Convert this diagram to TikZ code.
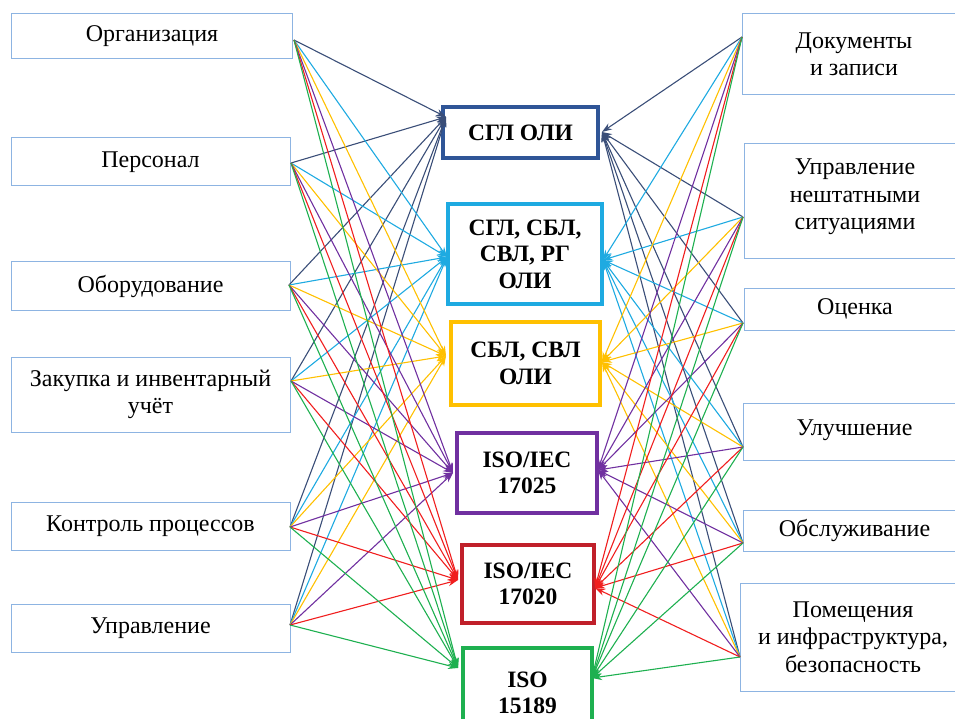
\documentclass[tikz,border=0pt]{standalone}
\usepackage{fontspec}
\setmainfont{Liberation Serif}
\usetikzlibrary{arrows.meta}
\definecolor{frame}{RGB}{141,180,226}
\definecolor{sgl}{RGB}{47,85,151}
\definecolor{sglline}{RGB}{58,78,120}
\definecolor{rg}{RGB}{30,170,225}
\definecolor{sbl}{RGB}{255,192,0}
\definecolor{iso25}{RGB}{112,48,160}
\definecolor{iso20}{RGB}{192,32,42}
\definecolor{iso20line}{RGB}{240,30,30}
\definecolor{iso89}{RGB}{30,176,80}

\begin{document}
\begin{tikzpicture}[x=1pt, y=-1pt, font=\fontsize{24}{27.5}\selectfont,
    sidebox/.style={rectangle, draw=frame, line width=1pt, fill=white,
      align=center, inner sep=0pt},
    stdbox/.style={rectangle, line width=3.5pt, fill=white, align=center,
      inner sep=0pt, font=\fontsize{23.5}{26.5}\selectfont\bfseries},
    link/.style={line width=1.1pt, -{Stealth[length=10pt,width=7pt]}}]
  \useasboundingbox (0,0) rectangle (955,719);

  % left side
  \node[sidebox, minimum width=281pt, minimum height=45pt] (org) at (152,36.5) {Организация};
  \node[sidebox, minimum width=279pt, minimum height=48pt] (pers) at (150.5,162) {Персонал};
  \node[sidebox, minimum width=279pt, minimum height=48pt] (obor) at (150.5,286) {Оборудование};
  \node[sidebox, minimum width=279pt, minimum height=75pt] (zak) at (150.5,394.5) {Закупка и инвентарный\\учёт};
  \node[sidebox, minimum width=279pt, minimum height=48pt] (kontr) at (150.5,526) {Контроль процессов};
  \node[sidebox, minimum width=279pt, minimum height=48pt] (upr) at (150.5,628) {Управление};

  % right side
  \node[sidebox, minimum width=224pt, minimum height=81pt] (doc) at (854,54.5) {Документы\\и записи};
  \node[sidebox, minimum width=222pt, minimum height=115pt, text depth=14pt] (nesht) at (855,201.5) {Управление\\нештатными\\ситуациями};
  \node[sidebox, minimum width=222pt, minimum height=42pt] (ocen) at (855,309) {Оценка};
  \node[sidebox, minimum width=223pt, minimum height=57pt, text depth=8pt] (uluch) at (854.5,431.5) {Улучшение};
  \node[sidebox, minimum width=223pt, minimum height=41pt] (obsl) at (854.5,530.5) {Обслуживание};
  \node[sidebox, minimum width=226pt, minimum height=108pt] (pom) at (853,637) {Помещения\\и инфраструктура,\\безопасность};

  % standards
  \node[stdbox, draw=sgl, minimum width=155pt, minimum height=51pt] (b1) at (520.5,132.5) {СГЛ ОЛИ};
  \node[stdbox, draw=rg, minimum width=154pt, minimum height=100pt] (b2) at (525,254) {СГЛ, СБЛ,\\СВЛ, РГ\\ОЛИ};
  \node[stdbox, draw=sbl, minimum width=149pt, minimum height=83pt] (b3) at (525.5,363.5) {СБЛ, СВЛ\\ОЛИ};
  \node[stdbox, draw=iso25, minimum width=140pt, minimum height=80pt] (b4) at (527,473) {ISO/IEC\\17025};
  \node[stdbox, draw=iso20, minimum width=132pt, minimum height=78pt] (b5) at (528,584) {ISO/IEC\\17020};
  \node[stdbox, draw=iso89, minimum width=129pt, minimum height=90pt] (b6) at (527.5,693) {ISO\\15189};

  % link ends
  \coordinate (org-out) at (294,40);
  \coordinate (pers-out) at (291,163);
  \coordinate (obor-out) at (289,285);
  \coordinate (zak-out) at (291,381);
  \coordinate (kontr-out) at (290,527);
  \coordinate (upr-out) at (290,625);
  \coordinate (doc-out) at (742,37);
  \coordinate (nesht-out) at (743,217);
  \coordinate (ocen-out) at (743,323);
  \coordinate (uluch-out) at (743,447);
  \coordinate (obsl-out) at (743,543);
  \coordinate (pom-out) at (740,657);
  \coordinate (b1-w) at (446,117);
  \coordinate (b2-w) at (447,257);
  \coordinate (b3-w) at (446,356);
  \coordinate (b4-w) at (453,473);
  \coordinate (b5-w) at (458,580);
  \coordinate (b6-w) at (458,668);
  \coordinate (b1-e) at (602,132);
  \coordinate (b2-e) at (603,260);
  \coordinate (b3-e) at (602,362);
  \coordinate (b4-e) at (598,470);
  \coordinate (b5-e) at (595,588);
  \coordinate (b6-e) at (592,678);

  \foreach \t/\c in {1/sglline,2/rg,3/sbl,4/iso25,5/iso20line,6/iso89} {
    \foreach \s in {org,pers,obor,zak,kontr,upr}
      \draw[link, \c] (\s-out) -- (b\t-w);
    \foreach \s in {doc,nesht,ocen,uluch,obsl,pom}
      \draw[link, \c] (\s-out) -- (b\t-e);
  }
\end{tikzpicture}
\end{document}
